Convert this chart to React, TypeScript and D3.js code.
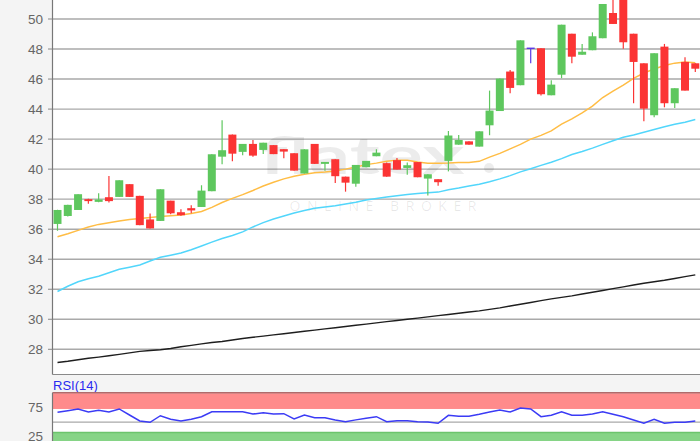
import React from 'react';
import * as d3 from 'd3';

const W = 700;
const H = 441;

const opens = [36.35, 36.88, 37.28, 38.0, 37.82, 38.13, 38.15, 39.0, 38.22, 36.65,
  36.55, 37.9, 37.13, 37.4, 37.48, 38.53, 40.83, 42.3, 41.15, 41.68,
  41.28, 41.6, 41.33, 41.06, 39.71, 41.68, 40.35, 40.66, 39.5, 39.03,
  40.13, 40.86, 40.4, 40.6, 40.08, 40.47, 39.37, 39.33, 40.55, 41.63,
  41.85, 41.5, 42.92, 43.87, 46.5, 45.59, 48.05, 48.05, 44.92, 46.29,
  49.02, 47.62, 47.92, 48.72, 50.4, 51.7, 49.02, 47.05, 43.59, 48.16,
  44.39, 47.14, 47.05];
const highs = [37.3, 37.62, 38.33, 38.02, 38.4, 39.55, 39.26, 39.0, 38.22, 37.05,
  38.66, 37.9, 37.33, 37.6, 38.93, 40.99, 43.26, 42.3, 41.68, 41.94,
  41.76, 41.6, 41.33, 41.06, 41.32, 41.68, 40.48, 40.66, 39.5, 40.28,
  40.55, 41.32, 40.45, 40.75, 40.45, 40.47, 39.66, 39.33, 42.54, 42.28,
  41.85, 42.52, 45.23, 46.03, 46.6, 48.58, 48.05, 48.05, 45.92, 49.62,
  49.02, 48.34, 49.11, 51.0, 51.8, 52.0, 49.02, 47.05, 47.72, 48.34,
  45.39, 47.45, 47.05];
const lows = [35.9, 36.85, 37.28, 37.7, 37.8, 37.77, 38.15, 38.15, 36.27, 36.05,
  36.55, 37.0, 36.9, 37.07, 37.48, 38.53, 40.33, 40.53, 40.93, 40.83,
  41.0, 41.0, 40.72, 39.9, 39.71, 40.35, 39.9, 39.08, 38.5, 38.83,
  40.13, 40.86, 39.5, 39.97, 39.63, 39.46, 38.24, 38.9, 39.85, 41.63,
  41.63, 41.5, 42.26, 43.87, 45.05, 45.59, 47.05, 44.9, 44.92, 46.06,
  47.05, 47.62, 47.92, 48.72, 49.67, 48.02, 44.39, 43.19, 43.46, 44.12,
  44.07, 45.23, 46.47];
const closes = [37.28, 37.62, 38.33, 37.87, 37.98, 37.87, 39.26, 38.15, 36.27, 36.05,
  38.66, 37.06, 36.93, 37.25, 38.57, 40.99, 41.26, 41.03, 41.68, 40.9,
  41.76, 41.0, 41.17, 39.9, 41.32, 40.35, 40.48, 39.53, 39.1, 40.28,
  40.55, 41.1, 39.5, 39.97, 40.26, 39.46, 39.66, 39.13, 42.24, 41.94,
  41.63, 42.52, 43.9, 46.03, 45.41, 48.58, 48.05, 44.99, 45.63, 49.62,
  47.49, 47.82, 48.85, 51.0, 49.67, 48.45, 47.14, 44.03, 47.72, 44.39,
  45.39, 45.23, 46.69];

const sma20 = [35.5, 35.7, 35.92, 36.15, 36.32, 36.43, 36.55, 36.65, 36.72, 36.78,
  36.84, 36.9, 36.95, 37.05, 37.18, 37.45, 37.78, 38.05, 38.3, 38.58,
  38.88, 39.13, 39.35, 39.52, 39.66, 39.76, 39.81, 39.88, 40.0, 40.14,
  40.3, 40.4, 40.52, 40.6, 40.59, 40.48, 40.4, 40.39, 40.41, 40.45,
  40.45, 40.52, 40.8, 41.05, 41.35, 41.65, 42.0, 42.25, 42.55, 43.0,
  43.35, 43.75, 44.2, 44.77, 45.2, 45.6, 46.05, 46.4, 46.67, 46.9,
  47.06, 47.13, 47.08];
const sma50 = [31.85, 32.2, 32.5, 32.7, 32.87, 33.1, 33.33, 33.47, 33.62, 33.88,
  34.13, 34.27, 34.41, 34.63, 34.88, 35.14, 35.38, 35.58, 35.82, 36.15,
  36.44, 36.68, 36.88, 37.08, 37.24, 37.39, 37.48, 37.56, 37.68, 37.8,
  37.95, 38.05, 38.14, 38.23, 38.31, 38.38, 38.43, 38.47, 38.63, 38.74,
  38.87, 39.0, 39.16, 39.35, 39.57, 39.82, 40.02, 40.25, 40.46, 40.7,
  40.97, 41.17, 41.4, 41.65, 41.89, 42.12, 42.28, 42.46, 42.64, 42.82,
  42.99, 43.13, 43.3];
const sma200 = [27.12, 27.2, 27.3, 27.4, 27.48, 27.57, 27.66, 27.76, 27.86, 27.92,
  27.97, 28.05, 28.17, 28.26, 28.36, 28.45, 28.52, 28.62, 28.72, 28.8,
  28.88, 28.96, 29.04, 29.12, 29.2, 29.28, 29.36, 29.44, 29.52, 29.6,
  29.68, 29.76, 29.84, 29.92, 30.0, 30.08, 30.16, 30.24, 30.32, 30.4,
  30.48, 30.56, 30.66, 30.76, 30.88, 31.0, 31.12, 31.24, 31.36, 31.46,
  31.56, 31.68, 31.8, 31.92, 32.04, 32.16, 32.28, 32.4, 32.5, 32.6,
  32.72, 32.84, 32.96];
const rsi = [67.1, 69.8, 72.8, 67.6, 70.5, 67.6, 72.8, 62.4, 52.1, 49.8,
  61.2, 55, 52.1, 55, 59.5, 68.1, 68.1, 68.1, 68.1, 64.1,
  66.4, 64.1, 64.7, 55.5, 62.4, 57.8, 57.8, 53.8, 50.9, 54,
  57, 59.5, 50.9, 52.6, 52.6, 50.9, 50.3, 48.1, 61.9, 60.2,
  60.2, 63.6, 67.6, 71, 67.6, 74.5, 72.8, 59.5, 61.9, 68.1,
  61.9, 61.9, 64.1, 68.1, 63.6, 59.5, 53.8, 48.1, 55, 48.1,
  49.8, 49.8, 52.1];

const yTicks = [28, 30, 32, 34, 36, 38, 40, 42, 44, 46, 48, 50];
const rsiTicks = [75, 25];
const rsiMid = 50;
const overbought = [72.8, 100];
const oversold = [0, 33.1];

const GREEN = '#5ec75e';
const RED = '#fb3434';
const DOJI = '#5a3ae6';

export default function App() {
  const n = closes.length;
  const idx = d3.range(n);
  const left = 52.5;
  const mainBottom = 374.5;
  const rsiTop = 392.7;

  const x = d3.scaleLinear().domain([0, n - 1]).range([57.5, 695.3]);
  const y = d3.scaleLinear().domain([28, 50]).range([349.3, 19]);
  const yr = d3.scaleLinear().domain([25, 75]).range([436.7, 407.7]);
  const bw = 8;

  const lineOf = (arr: number[]) =>
    d3.line<number>().x((_, i) => x(i)).y((d) => y(d)).curve(d3.curveLinear)(arr) || '';
  const rsiLine = d3.line<number>().x((_, i) => x(i)).y((d) => yr(d))(rsi) || '';

  const font = 'Liberation Sans, Arial, sans-serif';

  return (
    <svg width={W} height={H} style={{ position: 'absolute', left: 0, top: 0, display: 'block' }}
      xmlns="http://www.w3.org/2000/svg">
      <defs>
        <clipPath id="mainClip">
          <rect x={left} y={0} width={W - left} height={mainBottom} />
        </clipPath>
        <clipPath id="rsiClip">
          <rect x={left} y={rsiTop} width={W - left} height={H - rsiTop} />
        </clipPath>
      </defs>
      <rect x={0} y={0} width={W} height={H} fill="#f4f4f4" />
      {/* main panel */}
      <rect x={left} y={0} width={W - left} height={mainBottom} fill="#ffffff" />
      <g clipPath="url(#mainClip)">
        {yTicks.map((t) => (
          <line key={t} x1={left} x2={W} y1={y(t)} y2={y(t)} stroke="#a9a9a9" strokeWidth={1.4} />
        ))}
        {/* watermark */}
        <text x={362} y={174} textAnchor="middle" fontFamily="Lato, 'Open Sans', sans-serif"
          fontWeight={700} fontSize={52} fill="#000" fillOpacity={0.075}
          textLength={205} lengthAdjust="spacingAndGlyphs">flatex</text>
        <circle cx={489} cy={168} r={5} fill="#000" fillOpacity={0.075} />
        <text x={383} y={211} textAnchor="middle" fontFamily="'Open Sans', sans-serif"
          fontSize={14} fill="#000" fillOpacity={0.09} textLength={187}
          lengthAdjust="spacing">ONLINE BROKER</text>
        {/* moving averages */}
        <path d={lineOf(sma200)} fill="none" stroke="#1e1e1e" strokeWidth={1.4} />
        <path d={lineOf(sma50)} fill="none" stroke="#52d6fb" strokeWidth={1.5} />
        <path d={lineOf(sma20)} fill="none" stroke="#ffbd45" strokeWidth={1.5} />
        {/* candles */}
        {idx.map((i) => {
          const o = opens[i], c = closes[i], h = highs[i], l = lows[i];
          const doji = o === c;
          const col = doji ? DOJI : c > o ? GREEN : RED;
          const top = y(Math.max(o, c));
          const bot = y(Math.min(o, c));
          const cx = x(i);
          return (
            <g key={i}>
              <line x1={cx} x2={cx} y1={y(h)} y2={y(l)} stroke={col} strokeWidth={1.2} />
              {doji ? (
                <line x1={cx - bw / 2} x2={cx + bw / 2} y1={top} y2={top} stroke={col} strokeWidth={1.4} />
              ) : (
                <rect x={cx - bw / 2} y={top} width={bw} height={Math.max(1.5, bot - top)} fill={col} />
              )}
            </g>
          );
        })}
      </g>
      <line x1={left} x2={W} y1={mainBottom} y2={mainBottom} stroke="#8a8a8a" strokeWidth={1} />
      <line x1={left} x2={left} y1={0} y2={mainBottom} stroke="#777" strokeWidth={1.2} />
      {yTicks.map((t) => (
        <g key={t}>
          <line x1={48} x2={left} y1={y(t)} y2={y(t)} stroke="#888" strokeWidth={1} />
          <text x={43} y={y(t)} dy="0.35em" textAnchor="end" fontFamily={font} fontSize={13.5} fill="#666">{t}</text>
        </g>
      ))}

      {/* RSI panel */}
      <text x={53} y={390} fontFamily={font} fontSize={13} fill="#2a2af0">RSI(14)</text>
      <rect x={left} y={rsiTop} width={W - left} height={H - rsiTop} fill="#ffffff" />
      <g clipPath="url(#rsiClip)">
        <rect x={left} y={yr(overbought[1])} width={W - left} height={yr(overbought[0]) - yr(overbought[1])}
          fill="#ff8b8b" />
        <rect x={left} y={yr(oversold[1])} width={W - left} height={yr(oversold[0]) - yr(oversold[1])}
          fill="#86d486" />
        <line x1={left} x2={W} y1={yr(oversold[1]) + 0.5} y2={yr(oversold[1]) + 0.5} stroke="#6cc46c" strokeWidth={1.5} />
        <line x1={left} x2={W} y1={yr(rsiMid)} y2={yr(rsiMid)} stroke="#a9a9a9" strokeWidth={1.3} />
        <path d={rsiLine} fill="none" stroke="#3b3bf5" strokeWidth={1.5} />
      </g>
      <line x1={left} x2={W} y1={rsiTop} y2={rsiTop} stroke="#b06a6a" strokeWidth={1.5} />
      <line x1={left} x2={left} y1={rsiTop} y2={H} stroke="#777" strokeWidth={1.2} />
      {rsiTicks.map((t) => (
        <text key={t} x={43} y={yr(t)} dy="0.35em" textAnchor="end" fontFamily={font} fontSize={13.5} fill="#666">{t}</text>
      ))}
    </svg>
  );
}
